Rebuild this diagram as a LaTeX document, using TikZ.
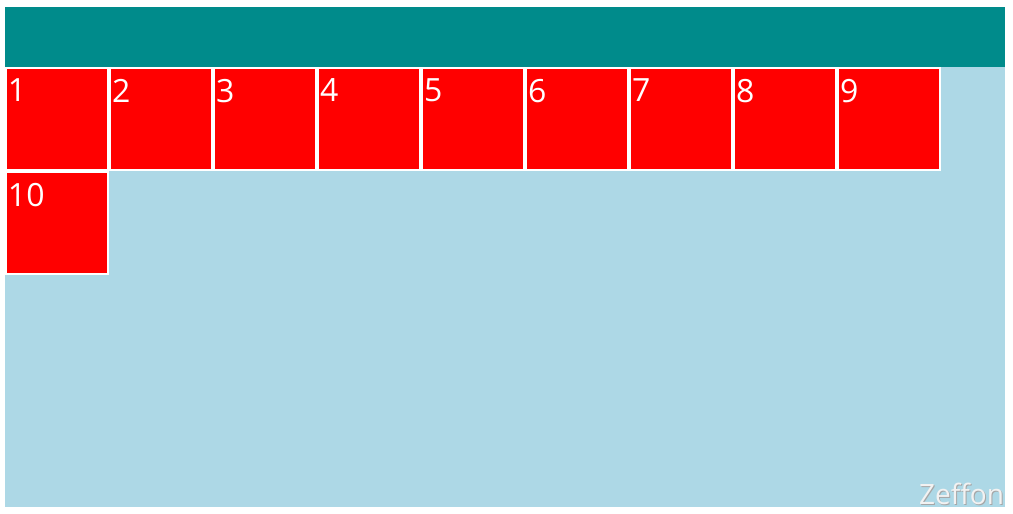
\documentclass[tikz,border=0pt]{standalone}
\usepackage{fontspec}
\setmainfont{Open Sans}
\usepackage{tikz}
\usetikzlibrary{
        positioning
    }
\definecolor{headcol}{HTML}{008B8B}
\definecolor{bodycol}{HTML}{ADD8E6}
\definecolor{boxcol}{HTML}{FF0000}
\tikzset{x=1pt,y=1pt}
\tikzset{num/.style={anchor=north west,inner sep=0pt,xshift=2pt,yshift=-11pt,
        text=white,font=\fontsize{32}{38}\selectfont}}

\begin{document}
\begin{tikzpicture}[node distance=104pt]
                    \tikzset{every node/.style={outer sep=0pt}}
                    \tikzset{item/.style={fill=boxcol,draw=white,line width=2pt,
                        minimum size=102pt,inner sep=0pt}}
                    \useasboundingbox (0,0) rectangle (1013,-514);
                        \node[fill=headcol,minimum width=1000pt,minimum height=60pt,inner sep=0pt]
                            (head) at (505,-37) {};
                        \node[fill=bodycol,minimum width=1000pt,minimum height=440pt,inner sep=0pt,
                            below=0pt of head] (body) {};
                        \node[item,label={[num]north west:1}]  (b1) at (57,-119) {};
                        \node[item,label={[num]north west:2}]  (b2) [right of=b1] {};
                        \node[item,label={[num]north west:3}]  (b3) [right of=b2] {};
                        \node[item,label={[num]north west:4}]  (b4) [right of=b3] {};
                        \node[item,label={[num]north west:5}]  (b5) [right of=b4] {};
                        \node[item,label={[num]north west:6}]  (b6) [right of=b5] {};
                        \node[item,label={[num]north west:7}]  (b7) [right of=b6] {};
                        \node[item,label={[num]north west:8}]  (b8) [right of=b7] {};
                        \node[item,label={[num]north west:9}]  (b9) [right of=b8] {};
                        \node[item,label={[num]north west:10}] (b10) [below of=b1] {};
                        % watermark
                        \node[anchor=base east,inner sep=0pt,text=gray!70,
                            font=\fontsize{28}{34}\selectfont] (signshadow) at (1005,-505) {Zeffon};
                        \node[anchor=base east,inner sep=0pt,text=white!90!gray,
                            font=\fontsize{28}{34}\selectfont] (sign) at (1004,-504) {Zeffon};
            \end{tikzpicture}
\end{document}
